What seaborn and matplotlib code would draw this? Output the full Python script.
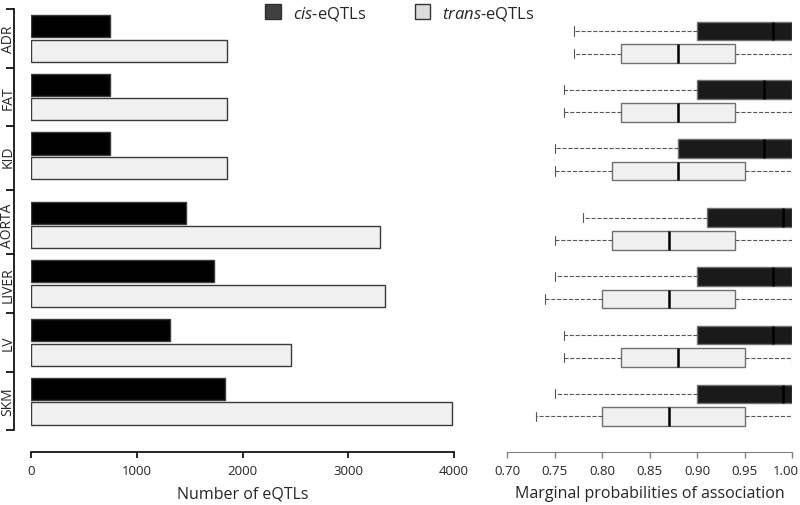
import pandas as pd
import matplotlib.pyplot as plt
import matplotlib.transforms as mtransforms
import seaborn as sns
from matplotlib.patches import Patch

# tissues, top to bottom
tissues = ["ADR", "FAT", "KID", "AORTA", "LIVER", "LV", "SKM"]
types = ["cis", "trans"]

# number of eQTLs per tissue
cis_counts = [750, 750, 750, 1470, 1730, 1310, 1830]
trans_counts = [1850, 1850, 1850, 3300, 3350, 2460, 3980]

# box summaries: min, q1, median, q3, max
cis_prob = [
    [0.77, 0.90, 0.98, 1.00, 1.00],
    [0.76, 0.90, 0.97, 1.00, 1.00],
    [0.75, 0.88, 0.97, 1.00, 1.00],
    [0.78, 0.91, 0.99, 1.00, 1.00],
    [0.75, 0.90, 0.98, 1.00, 1.00],
    [0.76, 0.90, 0.98, 1.00, 1.00],
    [0.75, 0.90, 0.99, 1.00, 1.00],
]
trans_prob = [
    [0.77, 0.82, 0.88, 0.94, 1.00],
    [0.76, 0.82, 0.88, 0.94, 1.00],
    [0.75, 0.81, 0.88, 0.95, 1.00],
    [0.75, 0.81, 0.87, 0.94, 1.00],
    [0.74, 0.80, 0.87, 0.94, 1.00],
    [0.76, 0.82, 0.88, 0.95, 1.00],
    [0.73, 0.80, 0.87, 0.95, 1.00],
]

# row layout: a small extra gap after the first three tissues
group_pos = [0, 1, 2, 3.18, 4.18, 5.18, 6.18]

bars = pd.DataFrame({
    "tissue": tissues * 2,
    "pos": group_pos * 2,
    "type": ["cis"] * 7 + ["trans"] * 7,
    "count": cis_counts + trans_counts,
})

rows = []
for t, p, c, tr in zip(tissues, group_pos, cis_prob, trans_prob):
    for v in c:
        rows.append((t, p, "cis", v))
    for v in tr:
        rows.append((t, p, "trans", v))
probs = pd.DataFrame(rows, columns=["tissue", "pos", "type", "prob"])

sns.set_style("ticks")
plt.rcParams['font.family'] = ['Open Sans', 'DejaVu Sans']
plt.rcParams['mathtext.fontset'] = 'custom'
plt.rcParams['mathtext.rm'] = 'Open Sans'
plt.rcParams['mathtext.it'] = 'Open Sans:italic'

fig = plt.figure(figsize=(8, 5.06), dpi=100)
ax1 = fig.add_axes([31 / 800, 1 - 435.6 / 506, 423 / 800, 425.6 / 506])
ax2 = fig.add_axes([507 / 800, 1 - 439.6 / 506, 285 / 800, 425.6 / 506])

# left: bar chart of counts
sns.barplot(data=bars, x="count", y="pos", hue="type", hue_order=types,
            orient="y", native_scale=True, errorbar=None, saturation=1,
            palette={"cis": "#000000", "trans": "#f0f0f0"},
            width=0.84, gap=0.1, edgecolor="#3a3a3a", linewidth=1,
            legend=False, ax=ax1)

# right: box plots of marginal probabilities
sns.boxplot(data=probs, x="prob", y="pos", hue="type", hue_order=types,
            orient="y", native_scale=True, whis=(0, 100), saturation=1,
            palette={"cis": "#1a1a1a", "trans": "#f0f0f0"},
            width=0.77, gap=0.18, linecolor="#707070", linewidth=1,
            showfliers=False,
            medianprops={"color": "black", "linewidth": 1.8},
            whiskerprops={"color": "#555555", "linestyle": "--", "linewidth": 0.8},
            capprops={"color": "#555555", "linewidth": 0.8},
            legend=False, ax=ax2)

bounds = [group_pos[0] - 0.5]
bounds += [(a + b) / 2 for a, b in zip(group_pos[:-1], group_pos[1:])]
bounds += [group_pos[-1] + 0.5]

for ax in (ax1, ax2):
    ax.set_ylim(6.75, -0.5)
    ax.set_ylabel("")

# left axis styling
ax1.set_xlim(0, 4000)
ax1.set_xticks([0, 1000, 2000, 3000, 4000])
ax1.set_xlabel("Number of eQTLs", fontsize=11.5, labelpad=6)
ax1.set_yticks(bounds)
ax1.set_yticklabels([])
ax1.tick_params(axis="y", which="major", length=6, width=1.2, color="black")
ax1.tick_params(axis="x", length=4, width=1.2, labelsize=9.5, color="black", pad=5)
sns.despine(ax=ax1, offset={"left": 12.2, "bottom": 12.2})
ax1.spines["left"].set_bounds(bounds[0], bounds[-1])
for s in ("left", "bottom"):
    ax1.spines[s].set_linewidth(1.2)
    ax1.spines[s].set_color("black")

# tissue names sit between the boundary ticks, rotated
trans_lab = mtransforms.blended_transform_factory(ax1.transAxes, ax1.transData)
for name, p in zip(tissues, group_pos):
    ax1.text(-23 / 423, p, name, transform=trans_lab, rotation=90,
             ha="center", va="center", fontsize=10, clip_on=False)

# right axis styling
ax2.set_xlim(0.70, 1.00)
ax2.set_xticks([0.70, 0.75, 0.80, 0.85, 0.90, 0.95, 1.00])
ax2.set_xticklabels(["0.70", "0.75", "0.80", "0.85", "0.90", "0.95", "1.00"])
ax2.set_xlabel("Marginal probabilities of association", fontsize=11.5, labelpad=6)
ax2.set_yticks([])
ax2.tick_params(axis="x", length=4, width=1, labelsize=9.5, color="#808080", pad=5)
sns.despine(ax=ax2, left=True, offset={"bottom": 9.4})
ax2.spines["bottom"].set_color("#808080")
# nudge the last label so it stays inside the canvas
last = ax2.get_xticklabels()[-1]
last.set_transform(last.get_transform()
                   + mtransforms.ScaledTranslation(-6 / 100, 0, fig.dpi_scale_trans))

handles = [Patch(facecolor="#404040", edgecolor="#303030"),
           Patch(facecolor="#dcdcdc", edgecolor="#333333")]
fig.legend(handles, [r"$\it{cis}$-eQTLs", r"$\it{trans}$-eQTLs"],
           loc="upper center", bbox_to_anchor=(0.5, 1.02), ncol=2,
           frameon=False, fontsize=12, handlelength=0.95, handleheight=0.95,
           columnspacing=2.9, handletextpad=0.7)

fig.savefig("out.png", dpi=100)
